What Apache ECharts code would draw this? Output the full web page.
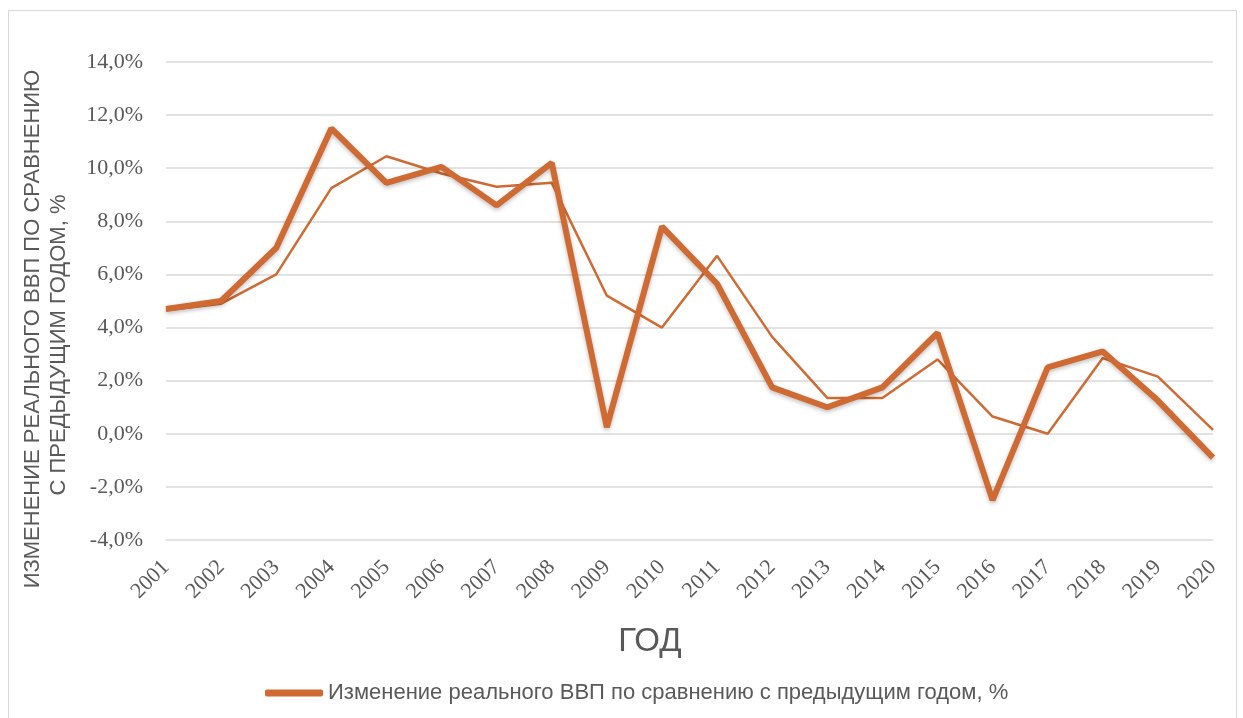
<!DOCTYPE html>
<html>
<head>
<meta charset="utf-8">
<script src="https://cdn.jsdelivr.net/npm/echarts@6/dist/echarts.min.js"></script>
<style>
	html, body { margin: 0; padding: 0; background: #fff; }
	#frame { position: absolute; left: 8px; top: 10px; width: 1229px; height: 720px; border: 1px solid #d9d9d9; box-sizing: border-box; }
	#chart { position: absolute; left: 0; top: 0; width: 1243px; height: 718px; }
</style>
</head>
<body>
<div id="frame"></div>
<div id="chart"></div>
<script>
var years = ['2001', '2002', '2003', '2004', '2005', '2006', '2007', '2008', '2009', '2010',
	'2011', '2012', '2013', '2014', '2015', '2016', '2017', '2018', '2019', '2020'];

// толстая линия (в легенде)
var gdpChange = [4.7, 5.0, 7.0, 11.5, 9.45, 10.05, 8.6, 10.2, 0.25, 7.8,
	5.65, 1.75, 1.0, 1.75, 3.8, -2.5, 2.5, 3.1, 1.25, -0.9];

// тонкая линия
var gdpChange2 = [4.65, 4.9, 6.0, 9.25, 10.45, 9.8, 9.3, 9.45, 5.2, 4.0,
	6.7, 3.65, 1.35, 1.35, 2.8, 0.65, 0.0, 2.85, 2.15, 0.15];

var yTicks = [-4, -2, 0, 2, 4, 6, 8, 10, 12, 14];

var legendName = 'Изменение реального ВВП по сравнению с предыдущим годом, %';
var orange = '#CF6A33';
var grey = '#595959';

var myChart = echarts.init(document.getElementById('chart'));

var option = {
	animation : false,
	grid : {
		left : 166,
		right : 30,
		top : 62,
		bottom : 178
	},
	legend : {
		data : [ legendName ],
		top : 677,
		left : 260,
		icon : 'roundRect',
		itemWidth : 58,
		itemHeight : 7,
		itemGap : 2,
		textStyle : {
			fontFamily : 'Liberation Sans',
			fontSize : 22,
			color : grey
		}
	},
	graphic : [ {
		type : 'text',
		x : 33,
		y : 329,
		rotation : Math.PI / 2,
		style : {
			text : 'ИЗМЕНЕНИЕ РЕАЛЬНОГО ВВП ПО СРАВНЕНИЮ',
			align : 'center',
			verticalAlign : 'middle',
			fontFamily : 'Liberation Sans',
			fontSize : 22,
			fill : grey
		}
	}, {
		type : 'text',
		x : 59,
		y : 345,
		rotation : Math.PI / 2,
		style : {
			text : 'С ПРЕДЫДУЩИМ ГОДОМ, %',
			align : 'center',
			verticalAlign : 'middle',
			fontFamily : 'Liberation Sans',
			fontSize : 22,
			fill : grey
		}
	}, {
		type : 'text',
		x : 650,
		y : 642,
		style : {
			text : 'ГОД',
			align : 'center',
			verticalAlign : 'middle',
			fontFamily : 'Liberation Sans',
			fontSize : 33,
			fill : grey
		}
	} ],
	xAxis : {
		type : 'category',
		data : years,
		boundaryGap : false,
		axisLine : { show : false },
		axisTick : { show : false },
		axisLabel : {
			rotate : 45,
			margin : 24,
			fontFamily : 'Liberation Serif',
			fontSize : 22,
			color : grey
		}
	},
	yAxis : {
		type : 'value',
		min : yTicks[0],
		max : yTicks[yTicks.length - 1],
		interval : 2,
		axisLine : { show : false },
		axisTick : { show : false },
		axisLabel : {
			margin : 23,
			fontFamily : 'Liberation Serif',
			fontSize : 22,
			color : grey,
			formatter : function(v) {
				return v.toFixed(1).replace('.', ',') + '%';
			}
		},
		splitLine : {
			lineStyle : { color : '#d9d9d9', width : 1.5 }
		}
	},
	series : [ {
		name : 'Ряд 2',
		type : 'line',
		data : gdpChange2,
		symbol : 'none',
		z : 2,
		lineStyle : { color : orange, width : 2.5 },
		itemStyle : { color : orange }
	}, {
		name : legendName,
		type : 'line',
		data : gdpChange,
		symbol : 'none',
		z : 3,
		lineStyle : {
			color : orange,
			width : 6,
			shadowColor : 'rgba(0,0,0,0.25)',
			shadowBlur : 4,
			shadowOffsetY : 2
		},
		itemStyle : { color : orange }
	} ]
};

myChart.setOption(option);
</script>
</body>
</html>
